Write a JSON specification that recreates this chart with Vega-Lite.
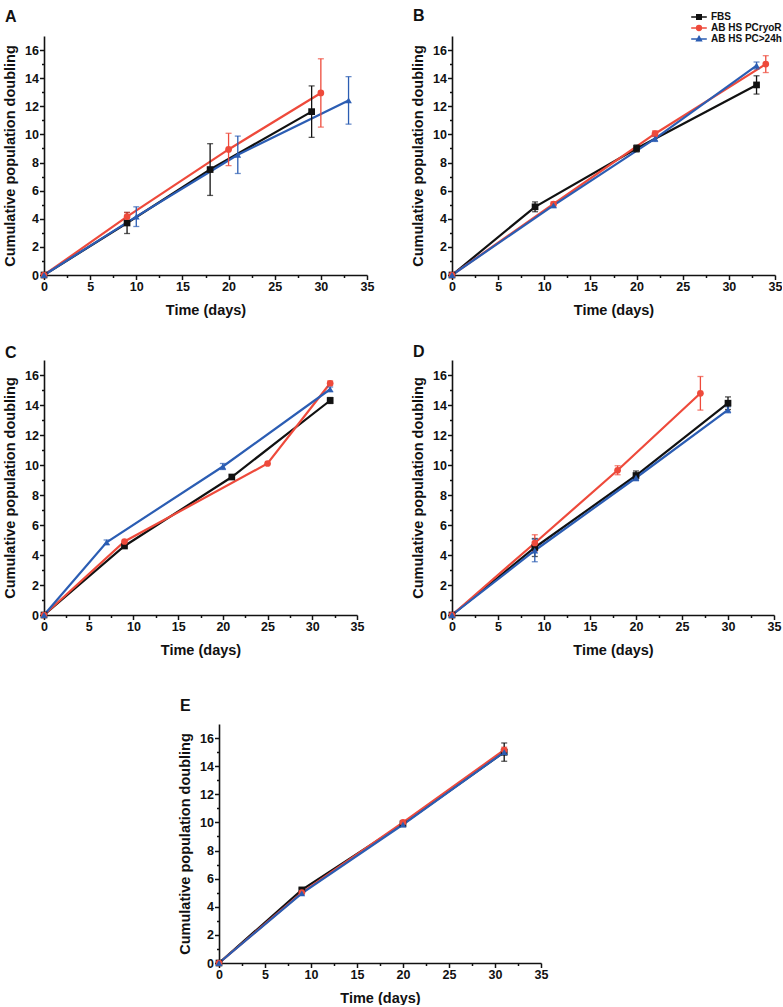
{
  "$schema": "https://vega.github.io/schema/vega-lite/v6.json",
  "padding": {"left": 2, "top": 8, "right": 0, "bottom": 0},
  "background": "white",
  "datasets": {
    "d": [
      {"panel": "A", "series": "FBS", "t": 0, "y": 0, "e": 0},
      {"panel": "A", "series": "FBS", "t": 9, "y": 3.7, "e": 0.75},
      {"panel": "A", "series": "FBS", "t": 18, "y": 7.5, "e": 1.84},
      {"panel": "A", "series": "FBS", "t": 29, "y": 11.62, "e": 1.83},
      {"panel": "A", "series": "AB HS PCryoR", "t": 0, "y": 0, "e": 0},
      {"panel": "A", "series": "AB HS PCryoR", "t": 9, "y": 4.15, "e": 0.3},
      {"panel": "A", "series": "AB HS PCryoR", "t": 20, "y": 8.93, "e": 1.15},
      {"panel": "A", "series": "AB HS PCryoR", "t": 30, "y": 12.95, "e": 2.43},
      {"panel": "A", "series": "AB HS PC>24h", "t": 0, "y": 0, "e": 0},
      {"panel": "A", "series": "AB HS PC>24h", "t": 10, "y": 4.15, "e": 0.7},
      {"panel": "A", "series": "AB HS PC>24h", "t": 21, "y": 8.55, "e": 1.33},
      {"panel": "A", "series": "AB HS PC>24h", "t": 33, "y": 12.42, "e": 1.69},

      {"panel": "B", "series": "FBS", "t": 0, "y": 0, "e": 0},
      {"panel": "B", "series": "FBS", "t": 9, "y": 4.85, "e": 0.35},
      {"panel": "B", "series": "FBS", "t": 20, "y": 9.0, "e": 0.25},
      {"panel": "B", "series": "FBS", "t": 33, "y": 13.52, "e": 0.65},
      {"panel": "B", "series": "AB HS PCryoR", "t": 0, "y": 0, "e": 0},
      {"panel": "B", "series": "AB HS PCryoR", "t": 11, "y": 5.05, "e": 0.15},
      {"panel": "B", "series": "AB HS PCryoR", "t": 22, "y": 10.05, "e": 0.2},
      {"panel": "B", "series": "AB HS PCryoR", "t": 34, "y": 15.0, "e": 0.6},
      {"panel": "B", "series": "AB HS PC>24h", "t": 0, "y": 0, "e": 0},
      {"panel": "B", "series": "AB HS PC>24h", "t": 11, "y": 4.95, "e": 0.15},
      {"panel": "B", "series": "AB HS PC>24h", "t": 22, "y": 9.7, "e": 0.2},
      {"panel": "B", "series": "AB HS PC>24h", "t": 33, "y": 14.9, "e": 0.25},

      {"panel": "C", "series": "FBS", "t": 0, "y": 0, "e": 0},
      {"panel": "C", "series": "FBS", "t": 9, "y": 4.6, "e": 0},
      {"panel": "C", "series": "FBS", "t": 21, "y": 9.2, "e": 0},
      {"panel": "C", "series": "FBS", "t": 32, "y": 14.3, "e": 0.2},
      {"panel": "C", "series": "AB HS PCryoR", "t": 0, "y": 0, "e": 0},
      {"panel": "C", "series": "AB HS PCryoR", "t": 9, "y": 4.9, "e": 0},
      {"panel": "C", "series": "AB HS PCryoR", "t": 25, "y": 10.1, "e": 0},
      {"panel": "C", "series": "AB HS PCryoR", "t": 32, "y": 15.45, "e": 0.15},
      {"panel": "C", "series": "AB HS PC>24h", "t": 0, "y": 0, "e": 0},
      {"panel": "C", "series": "AB HS PC>24h", "t": 7, "y": 4.85, "e": 0.15},
      {"panel": "C", "series": "AB HS PC>24h", "t": 20, "y": 9.9, "e": 0.2},
      {"panel": "C", "series": "AB HS PC>24h", "t": 32, "y": 15.05, "e": 0.15},

      {"panel": "D", "series": "FBS", "t": 0, "y": 0, "e": 0},
      {"panel": "D", "series": "FBS", "t": 9, "y": 4.5, "e": 0.6},
      {"panel": "D", "series": "FBS", "t": 20, "y": 9.3, "e": 0.3},
      {"panel": "D", "series": "FBS", "t": 30, "y": 14.12, "e": 0.42},
      {"panel": "D", "series": "AB HS PCryoR", "t": 0, "y": 0, "e": 0},
      {"panel": "D", "series": "AB HS PCryoR", "t": 9, "y": 4.8, "e": 0.55},
      {"panel": "D", "series": "AB HS PCryoR", "t": 18, "y": 9.65, "e": 0.3},
      {"panel": "D", "series": "AB HS PCryoR", "t": 27, "y": 14.78, "e": 1.12},
      {"panel": "D", "series": "AB HS PC>24h", "t": 0, "y": 0, "e": 0},
      {"panel": "D", "series": "AB HS PC>24h", "t": 9, "y": 4.3, "e": 0.75},
      {"panel": "D", "series": "AB HS PC>24h", "t": 20, "y": 9.15, "e": 0.2},
      {"panel": "D", "series": "AB HS PC>24h", "t": 30, "y": 13.68, "e": 0.2},

      {"panel": "E", "series": "FBS", "t": 0, "y": 0, "e": 0},
      {"panel": "E", "series": "FBS", "t": 9, "y": 5.2, "e": 0.1},
      {"panel": "E", "series": "FBS", "t": 20, "y": 9.9, "e": 0.1},
      {"panel": "E", "series": "FBS", "t": 31, "y": 15.0, "e": 0.65},
      {"panel": "E", "series": "AB HS PCryoR", "t": 0, "y": 0, "e": 0},
      {"panel": "E", "series": "AB HS PCryoR", "t": 9, "y": 5.0, "e": 0},
      {"panel": "E", "series": "AB HS PCryoR", "t": 20, "y": 10.0, "e": 0.1},
      {"panel": "E", "series": "AB HS PCryoR", "t": 31, "y": 15.15, "e": 0.2},
      {"panel": "E", "series": "AB HS PC>24h", "t": 0, "y": 0, "e": 0},
      {"panel": "E", "series": "AB HS PC>24h", "t": 9, "y": 4.95, "e": 0},
      {"panel": "E", "series": "AB HS PC>24h", "t": 20, "y": 9.85, "e": 0},
      {"panel": "E", "series": "AB HS PC>24h", "t": 31, "y": 15.0, "e": 0.2}
    ]
  },
  "bounds": "flush",
  "spacing": 688,
  "resolve": {"scale": {"color": "independent", "shape": "independent"}, "legend": {"color": "independent", "shape": "independent"}},
  "vconcat": [
    {
      "bounds": "flush",
      "spacing": 324,
      "resolve": {"scale": {"color": "independent", "shape": "independent"}, "legend": {"color": "independent", "shape": "independent"}},
      "vconcat": [
        {
          "bounds": "flush",
          "spacing": 85,
          "resolve": {"scale": {"color": "independent", "shape": "independent"}, "legend": {"color": "independent", "shape": "independent"}},
          "hconcat": [
            {
              "width": 323, "height": 239,
              "title": {"text": "A", "anchor": "start", "frame": "group", "dx": -39, "offset": 11},
              "data": {"name": "d"},
              "transform": [{"filter": "datum.panel === 'A'"}],
              "encoding": {
                "x": {"field": "t", "type": "quantitative", "scale": {"domain": [0, 35], "nice": false},
                      "axis": {"title": "Time (days)", "values": [0,2.5,5,7.5,10,12.5,15,17.5,20,22.5,25,27.5,30,32.5,35], "labelExpr": "datum.value % 5 === 0 ? datum.label : ''", "tickSize": {"condition": {"test": "datum.value % 5 === 0", "value": 4.5}, "value": 2.5}}},
                "y": {"field": "y", "type": "quantitative", "scale": {"domain": [0, 17], "nice": false},
                      "axis": {"title": "Cumulative population doubling", "values": [0,1,2,3,4,5,6,7,8,9,10,11,12,13,14,15,16], "labelExpr": "datum.value % 2 === 0 ? datum.label : ''", "tickSize": {"condition": {"test": "datum.value % 2 === 0", "value": 4.5}, "value": 2.5}}},
                "color": {"field": "series", "type": "nominal", "scale": {"domain": ["FBS", "AB HS PCryoR", "AB HS PC>24h"], "range": ["#111111", "#ee4a3b", "#2b5db3"]}, "legend": null}
              },
              "layer": [
                {"mark": {"type": "line", "strokeWidth": 2.2}},
                {"transform": [{"filter": "datum.e > 0"}], "mark": {"type": "errorbar", "ticks": {"size": 6}, "thickness": 1.3}, "encoding": {"yError": {"field": "e"}}},
                {"mark": {"type": "point", "filled": true, "size": 45, "opacity": 1}, "encoding": {"shape": {"field": "series", "type": "nominal", "scale": {"domain": ["FBS", "AB HS PCryoR", "AB HS PC>24h"], "range": ["square", "circle", "triangle-up"]}, "legend": null}}}
              ]
            },
            {
              "width": 323, "height": 239,
              "title": {"text": "B", "anchor": "start", "frame": "group", "dx": -39, "offset": -12},
              "data": {"name": "d"},
              "transform": [{"filter": "datum.panel === 'B'"}],
              "encoding": {
                "x": {"field": "t", "type": "quantitative", "scale": {"domain": [0, 35], "nice": false},
                      "axis": {"title": "Time (days)", "values": [0,2.5,5,7.5,10,12.5,15,17.5,20,22.5,25,27.5,30,32.5,35], "labelExpr": "datum.value % 5 === 0 ? datum.label : ''", "tickSize": {"condition": {"test": "datum.value % 5 === 0", "value": 4.5}, "value": 2.5}}},
                "y": {"field": "y", "type": "quantitative", "scale": {"domain": [0, 17], "nice": false},
                      "axis": {"title": "Cumulative population doubling", "values": [0,1,2,3,4,5,6,7,8,9,10,11,12,13,14,15,16], "labelExpr": "datum.value % 2 === 0 ? datum.label : ''", "tickSize": {"condition": {"test": "datum.value % 2 === 0", "value": 4.5}, "value": 2.5}}}
              },
              "resolve": {"scale": {"shape": "independent"}, "legend": {"shape": "independent", "color": "independent", "fill": "independent", "stroke": "independent"}},
              "layer": [
                {"mark": {"type": "line", "strokeWidth": 2.2}, "encoding": {"color": {"field": "series", "type": "nominal", "scale": {"domain": ["FBS", "AB HS PCryoR", "AB HS PC>24h"], "range": ["#111111", "#ee4a3b", "#2b5db3"]}, "legend": null}}},
                {"transform": [{"filter": "datum.e > 0"}], "mark": {"type": "errorbar", "ticks": {"size": 6}, "thickness": 1.3}, "encoding": {"yError": {"field": "e"}, "color": {"field": "series", "type": "nominal", "scale": {"domain": ["FBS", "AB HS PCryoR", "AB HS PC>24h"], "range": ["#111111", "#ee4a3b", "#2b5db3"]}, "legend": null}}},
                {"mark": {"type": "point", "filled": true, "size": 45, "opacity": 1}, "encoding": {"color": {"field": "series", "type": "nominal", "scale": {"domain": ["FBS", "AB HS PCryoR", "AB HS PC>24h"], "range": ["#111111", "#ee4a3b", "#2b5db3"]}, "legend": null}, "shape": {"field": "series", "type": "nominal", "scale": {"domain": ["FBS", "AB HS PCryoR", "AB HS PC>24h"], "range": ["square", "circle", "triangle-up"]}, "legend": null}}},
                {"transform": [{"filter": "false"}], "mark": {"type": "point", "size": 36, "opacity": 1, "strokeWidth": 1.5},
                 "encoding": {
                   "fill": {"field": "series", "type": "nominal", "scale": {"domain": ["FBS", "AB HS PCryoR", "AB HS PC>24h"], "range": ["#111111", "#ee4a3b", "#2b5db3"]},
                            "legend": {"title": null, "orient": "none", "legendX": 242, "legendY": -24, "padding": 0, "rowPadding": -3.6, "symbolSize": 36, "symbolStrokeWidth": 1.5, "labelOffset": 7, "labelFontSize": 10, "labelFontWeight": "bold", "labelFont": "Liberation Sans", "labelColor": "#111"}},
                   "stroke": {"field": "series", "type": "nominal", "scale": {"domain": ["FBS", "AB HS PCryoR", "AB HS PC>24h"], "range": ["#111111", "#ee4a3b", "#2b5db3"]},
                            "legend": {"title": null, "orient": "none", "legendX": 242, "legendY": -24, "padding": 0, "rowPadding": -3.6, "symbolSize": 36, "symbolStrokeWidth": 1.5, "labelOffset": 7, "labelFontSize": 10, "labelFontWeight": "bold", "labelFont": "Liberation Sans", "labelColor": "#111"}},
                   "shape": {"field": "series", "type": "nominal", "scale": {"domain": ["FBS", "AB HS PCryoR", "AB HS PC>24h"], "range": ["M-2.6,0H2.6M-0.75,-0.75H0.75V0.75H-0.75Z", "M-2.6,0H2.6M-0.8,0A0.8,0.8 0 1,0 0.8,0A0.8,0.8 0 1,0 -0.8,0Z", "M-2.6,0H2.6M0,-0.85L0.8,0.6H-0.8Z"]},
                            "legend": {"title": null, "orient": "none", "legendX": 242, "legendY": -24, "padding": 0, "rowPadding": -3.6, "symbolSize": 36, "symbolStrokeWidth": 1.5, "labelOffset": 7, "labelFontSize": 10, "labelFontWeight": "bold", "labelFont": "Liberation Sans", "labelColor": "#111"}}
                 }}
              ]
            }
          ]
        },
        {
          "bounds": "flush",
          "spacing": 95,
          "resolve": {"scale": {"color": "independent", "shape": "independent"}, "legend": {"color": "independent", "shape": "independent"}},
          "hconcat": [
            {
              "width": 313, "height": 255,
              "title": {"text": "C", "anchor": "start", "frame": "group", "dx": -39, "offset": -1},
              "data": {"name": "d"},
              "transform": [{"filter": "datum.panel === 'C'"}],
              "encoding": {
                "x": {"field": "t", "type": "quantitative", "scale": {"domain": [0, 35], "nice": false},
                      "axis": {"title": "Time (days)", "values": [0,2.5,5,7.5,10,12.5,15,17.5,20,22.5,25,27.5,30,32.5,35], "labelExpr": "datum.value % 5 === 0 ? datum.label : ''", "tickSize": {"condition": {"test": "datum.value % 5 === 0", "value": 4.5}, "value": 2.5}}},
                "y": {"field": "y", "type": "quantitative", "scale": {"domain": [0, 17], "nice": false},
                      "axis": {"title": "Cumulative population doubling", "values": [0,1,2,3,4,5,6,7,8,9,10,11,12,13,14,15,16], "labelExpr": "datum.value % 2 === 0 ? datum.label : ''", "tickSize": {"condition": {"test": "datum.value % 2 === 0", "value": 4.5}, "value": 2.5}}},
                "color": {"field": "series", "type": "nominal", "scale": {"domain": ["FBS", "AB HS PCryoR", "AB HS PC>24h"], "range": ["#111111", "#ee4a3b", "#2b5db3"]}, "legend": null}
              },
              "layer": [
                {"mark": {"type": "line", "strokeWidth": 2.2}},
                {"transform": [{"filter": "datum.e > 0"}], "mark": {"type": "errorbar", "ticks": {"size": 6}, "thickness": 1.3}, "encoding": {"yError": {"field": "e"}}},
                {"mark": {"type": "point", "filled": true, "size": 45, "opacity": 1}, "encoding": {"shape": {"field": "series", "type": "nominal", "scale": {"domain": ["FBS", "AB HS PCryoR", "AB HS PC>24h"], "range": ["square", "circle", "triangle-up"]}, "legend": null}}}
              ]
            },
            {
              "width": 322, "height": 255,
              "title": {"text": "D", "anchor": "start", "frame": "group", "dx": -39, "offset": 0},
              "data": {"name": "d"},
              "transform": [{"filter": "datum.panel === 'D'"}],
              "encoding": {
                "x": {"field": "t", "type": "quantitative", "scale": {"domain": [0, 35], "nice": false},
                      "axis": {"title": "Time (days)", "values": [0,2.5,5,7.5,10,12.5,15,17.5,20,22.5,25,27.5,30,32.5,35], "labelExpr": "datum.value % 5 === 0 ? datum.label : ''", "tickSize": {"condition": {"test": "datum.value % 5 === 0", "value": 4.5}, "value": 2.5}}},
                "y": {"field": "y", "type": "quantitative", "scale": {"domain": [0, 17], "nice": false},
                      "axis": {"title": "Cumulative population doubling", "values": [0,1,2,3,4,5,6,7,8,9,10,11,12,13,14,15,16], "labelExpr": "datum.value % 2 === 0 ? datum.label : ''", "tickSize": {"condition": {"test": "datum.value % 2 === 0", "value": 4.5}, "value": 2.5}}},
                "color": {"field": "series", "type": "nominal", "scale": {"domain": ["FBS", "AB HS PCryoR", "AB HS PC>24h"], "range": ["#111111", "#ee4a3b", "#2b5db3"]}, "legend": null}
              },
              "layer": [
                {"mark": {"type": "line", "strokeWidth": 2.2}},
                {"transform": [{"filter": "datum.e > 0"}], "mark": {"type": "errorbar", "ticks": {"size": 6}, "thickness": 1.3}, "encoding": {"yError": {"field": "e"}}},
                {"mark": {"type": "point", "filled": true, "size": 45, "opacity": 1}, "encoding": {"shape": {"field": "series", "type": "nominal", "scale": {"domain": ["FBS", "AB HS PCryoR", "AB HS PC>24h"], "range": ["square", "circle", "triangle-up"]}, "legend": null}}}
              ]
            }
          ]
        }
      ]
    },
    {
      "bounds": "flush",
      "spacing": 0,
      "resolve": {"scale": {"color": "independent", "shape": "independent"}, "legend": {"color": "independent", "shape": "independent"}},
      "hconcat": [
        {
          "width": 175, "height": 239,
          "data": {"values": [{"k": 1}]},
          "mark": {"type": "point", "opacity": 0}
        },
        {
          "width": 322, "height": 239,
          "title": {"text": "E", "anchor": "start", "frame": "group", "dx": -39, "offset": 10},
          "data": {"name": "d"},
          "transform": [{"filter": "datum.panel === 'E'"}],
          "encoding": {
            "x": {"field": "t", "type": "quantitative", "scale": {"domain": [0, 35], "nice": false},
                  "axis": {"title": "Time (days)", "values": [0,2.5,5,7.5,10,12.5,15,17.5,20,22.5,25,27.5,30,32.5,35], "labelExpr": "datum.value % 5 === 0 ? datum.label : ''", "tickSize": {"condition": {"test": "datum.value % 5 === 0", "value": 4.5}, "value": 2.5}}},
            "y": {"field": "y", "type": "quantitative", "scale": {"domain": [0, 17], "nice": false},
                  "axis": {"title": "Cumulative population doubling", "values": [0,1,2,3,4,5,6,7,8,9,10,11,12,13,14,15,16], "labelExpr": "datum.value % 2 === 0 ? datum.label : ''", "tickSize": {"condition": {"test": "datum.value % 2 === 0", "value": 4.5}, "value": 2.5}}},
            "color": {"field": "series", "type": "nominal", "scale": {"domain": ["FBS", "AB HS PCryoR", "AB HS PC>24h"], "range": ["#111111", "#ee4a3b", "#2b5db3"]}, "legend": null}
          },
          "layer": [
            {"mark": {"type": "line", "strokeWidth": 2.2}},
            {"transform": [{"filter": "datum.e > 0"}], "mark": {"type": "errorbar", "ticks": {"size": 6}, "thickness": 1.3}, "encoding": {"yError": {"field": "e"}}},
            {"mark": {"type": "point", "filled": true, "size": 45, "opacity": 1}, "encoding": {"shape": {"field": "series", "type": "nominal", "scale": {"domain": ["FBS", "AB HS PCryoR", "AB HS PC>24h"], "range": ["square", "circle", "triangle-up"]}, "legend": null}}}
          ]
        }
      ]
    }
  ],
  "config": {
    "view": {"stroke": null},
    "font": "Liberation Sans",
    "title": {"font": "Liberation Sans", "fontSize": 16, "fontWeight": "bold", "color": "#111"},
    "axis": {
      "grid": false,
      "domainColor": "#111", "domainWidth": 1.6,
      "tickColor": "#111", "tickWidth": 1.5,
      "labelFont": "Liberation Sans", "labelFontSize": 12.5, "labelFontWeight": "bold", "labelColor": "#111",
      "labelFlush": false, "labelOverlap": false, "labelPadding": 1,
      "titleFont": "Liberation Sans", "titleFontSize": 14.5, "titleFontWeight": "bold", "titleColor": "#111"
    },
    "axisX": {"titlePadding": 10},
    "axisY": {"titlePadding": 7}
  }
}
